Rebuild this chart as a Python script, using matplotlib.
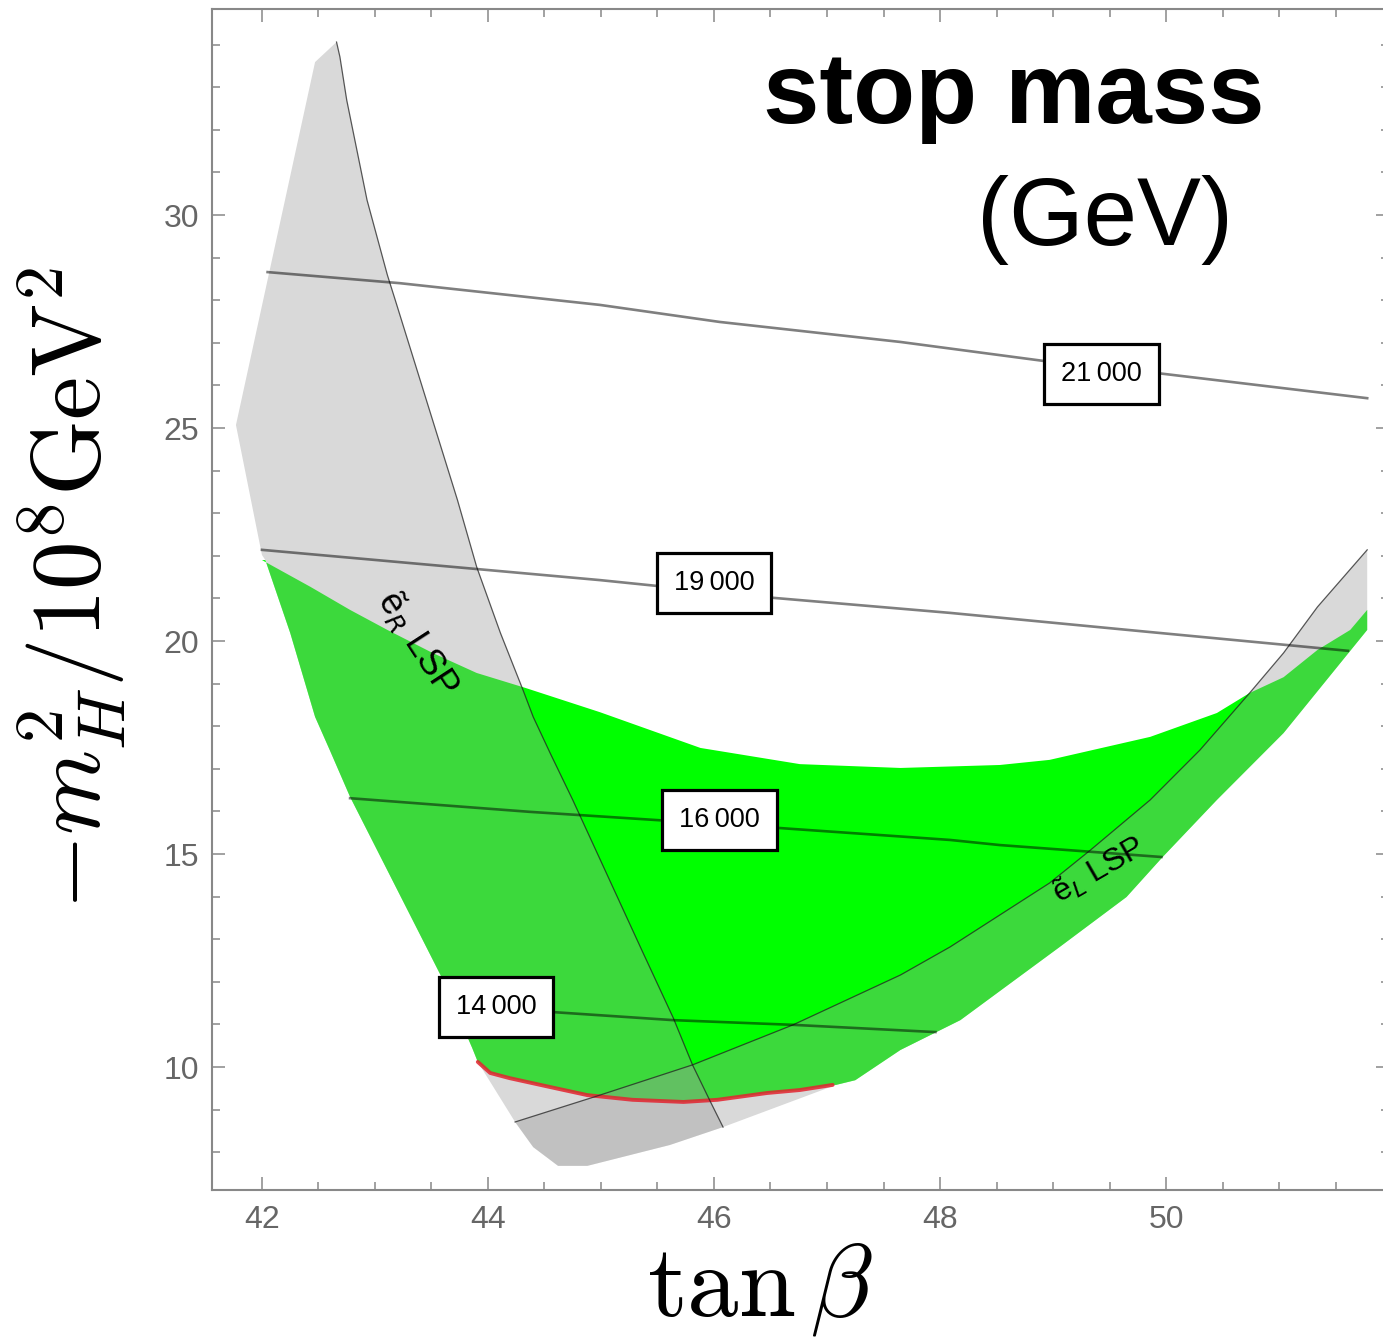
import matplotlib
matplotlib.use('Agg')
import matplotlib.pyplot as plt
from matplotlib.ticker import MultipleLocator

# ---------------- data (tan beta, -m_H^2 / 1e8 GeV^2) ----------------
# green allowed region: upper boundary (left -> right)
green_upper_x = [42.00, 42.43, 42.78, 43.11, 43.51, 43.90, 44.33, 44.99, 45.88, 46.76,
                 47.65, 48.53, 48.97, 49.86, 50.45, 50.74, 51.04, 51.34, 51.63, 51.78]
green_upper_y = [21.90, 21.27, 20.73, 20.26, 19.72, 19.25, 18.90, 18.33, 17.49, 17.11,
                 17.02, 17.09, 17.21, 17.75, 18.31, 18.78, 19.15, 19.79, 20.26, 20.73]
# green lower-right boundary (right -> left)
green_lowr_x = [51.78, 51.04, 50.45, 49.97, 49.65, 49.06, 48.18, 47.65, 47.25, 47.08]
green_lowr_y = [20.26, 17.84, 16.27, 14.93, 13.99, 12.82, 11.10, 10.40, 9.69, 9.58]
# red lower boundary (left -> right)
red_x = [43.91, 44.02, 44.19, 44.55, 44.88, 45.28, 45.73, 46.03, 46.47, 46.76, 47.05]
red_y = [10.12, 9.86, 9.74, 9.53, 9.34, 9.23, 9.18, 9.23, 9.39, 9.46, 9.58]
# green left boundary (bottom -> top)
green_left_x = [43.91, 43.86, 43.58, 42.78, 42.60, 42.47, 42.25, 42.03]
green_left_y = [10.12, 10.45, 12.16, 16.34, 17.44, 18.22, 20.19, 21.90]

# outer domain: top-left spike (bottom -> top) and bottom edge (left -> right)
dom_left_x = [42.00, 41.77, 42.47, 42.66]
dom_left_y = [22.02, 25.07, 33.59, 34.06]
dom_bot_x = [44.24, 44.40, 44.62, 44.88, 45.61, 46.08, 47.08]
dom_bot_y = [8.71, 8.12, 7.68, 7.68, 8.17, 8.59, 9.58]

# selectron-R LSP boundary (top -> bottom)
eR_x = [42.66, 42.69, 42.75, 42.93, 43.11, 43.18, 43.73, 43.90, 44.11, 44.31,
        44.40, 44.55, 44.75, 45.36, 45.64, 45.81, 45.96, 46.08]
eR_y = [34.06, 33.71, 32.70, 30.35, 28.59, 28.00, 23.31, 21.74, 20.19, 18.85,
        18.22, 17.37, 16.27, 12.75, 11.15, 10.05, 9.23, 8.59]
# selectron-L LSP boundary (bottom-left -> top-right)
eL_x = [44.24, 44.99, 45.81, 46.70, 47.65, 48.09, 48.97, 49.33, 49.86, 50.30,
        50.74, 51.04, 51.34, 51.78]
eL_y = [8.71, 9.34, 10.05, 10.99, 12.16, 12.82, 14.32, 15.09, 16.27, 17.44,
        18.78, 19.72, 20.80, 22.14]

# stop-mass contours (GeV)
c21000_x = [42.05, 43.22, 44.99, 46.05, 47.65, 48.93, 49.92, 51.78]
c21000_y = [28.66, 28.40, 27.89, 27.49, 27.02, 26.57, 26.29, 25.70]
c19000_x = [42.00, 43.90, 44.99, 46.54, 48.09, 49.86, 51.61]
c19000_y = [22.14, 21.69, 21.43, 21.01, 20.66, 20.21, 19.77]
c16000_x = [42.78, 44.37, 46.58, 48.09, 48.53, 49.96]
c16000_y = [16.31, 15.99, 15.61, 15.33, 15.21, 14.93]
c14000_x = [43.75, 44.57, 45.64, 46.70, 47.96]
c14000_y = [11.38, 11.29, 11.10, 10.99, 10.82]
contour_labels = ['21\u2009000', '19\u2009000', '16\u2009000', '14\u2009000']
label_x = [49.43, 46.00, 46.05, 44.07]
label_y = [26.27, 21.36, 15.80, 11.41]

x_ticks = [42, 44, 46, 48, 50]
y_ticks = [10, 15, 20, 25, 30]

SANS = ['Liberation Sans', 'DejaVu Sans']

# ---------------- figure ----------------
W, H = 1383, 1340
fig = plt.figure(figsize=(W / 100, H / 100), dpi=100)
ax = fig.add_axes([212 / W, 1 - 1190 / H, (1389 - 212) / W, (1190 - 9) / H])
ax.set_xlim(41.558, 51.973)
ax.set_ylim(7.113, 34.836)

# green region
gx = green_upper_x + green_lowr_x + red_x[::-1] + green_left_x
gy = green_upper_y + green_lowr_y + red_y[::-1] + green_left_y
ax.fill(gx, gy, color='#00ff00', lw=0, zorder=1)

gray = (0.616, 0.616, 0.616)
ga = 0.39
# selectron-R LSP region
rx = dom_left_x[::-1] + green_left_x[::-1] + dom_bot_x[:-1] + eR_x[::-1]
ry = dom_left_y[::-1] + green_left_y[::-1] + dom_bot_y[:-1] + eR_y[::-1]
ax.fill(rx, ry, color=gray, alpha=ga, lw=0, zorder=3)
# selectron-L LSP region
lx = eL_x + green_lowr_x + dom_bot_x[::-1]
ly = eL_y + green_lowr_y + dom_bot_y[::-1]
ax.fill(lx, ly, color=gray, alpha=ga, lw=0, zorder=3)

# red lower boundary
ax.plot(red_x, red_y, color='#e3232f', alpha=0.85, lw=2.8,
        solid_capstyle='round', zorder=4)

# boundary lines
ax.plot(eR_x, eR_y, color='#222222', alpha=0.75, lw=0.9, zorder=4)
ax.plot(eL_x, eL_y, color='#222222', alpha=0.75, lw=0.9, zorder=4)

# contours
for cx, cy in [(c21000_x, c21000_y), (c19000_x, c19000_y),
               (c16000_x, c16000_y), (c14000_x, c14000_y)]:
    ax.plot(cx, cy, color='black', alpha=0.5, lw=1.9, zorder=5)
for t, x, y in zip(contour_labels, label_x, label_y):
    ax.text(x, y, t, ha='center', va='center', fontsize=19.5,
            family=SANS, zorder=6,
            bbox=dict(boxstyle='square,pad=0.62', fc='white', ec='black', lw=2.3))

# LSP annotations
ax.text(43.38, 19.95, 'ẽ$_R$ LSP', rotation=-57, ha='center', va='center',
        fontsize=26, family=SANS, zorder=7, rotation_mode='anchor')
ax.text(49.40, 14.62, 'ẽ$_L$ LSP', rotation=30, ha='center', va='center',
        fontsize=23, family=SANS, zorder=7, rotation_mode='anchor')

# axes styling
ax.xaxis.set_minor_locator(MultipleLocator(0.5))
ax.yaxis.set_minor_locator(MultipleLocator(1))
ax.set_xticks(x_ticks)
ax.set_yticks(y_ticks)
ax.set_xticklabels([str(v) for v in x_ticks])
ax.set_yticklabels([str(v) for v in y_ticks])
ax.tick_params(which='both', direction='in', top=True, right=True,
               color='#888888', labelcolor='#666666', width=1.1)
ax.tick_params(which='major', length=9.4, labelsize=23)
ax.tick_params(axis='x', which='major', pad=11)
ax.tick_params(axis='y', which='major', pad=9)
ax.tick_params(which='minor', length=5.8)
for lab in ax.get_xticklabels() + ax.get_yticklabels():
    lab.set_family(SANS)
for s in ax.spines.values():
    s.set_color('#888888')
    s.set_linewidth(1.5)

# axis labels
fig.text(760 / W, 1 - 1315 / H, r'$\tan\beta$', ha='center', va='baseline',
         fontsize=74, math_fontfamily='cm')
fig.text(72 / W, 1 - 588 / H, r'$-m_H^2/10^8\mathrm{GeV}^2$', ha='center', va='center',
         rotation=90, fontsize=70, math_fontfamily='cm')

# title
fig.text(763 / W, 1 - 123 / H, 'stop mass', ha='left', va='baseline',
         fontsize=73, fontweight='bold', family=SANS)
fig.text(977 / W, 1 - 245 / H, '(GeV)', ha='left', va='baseline',
         fontsize=69, family=SANS)

fig.savefig('out.png', dpi=100)
